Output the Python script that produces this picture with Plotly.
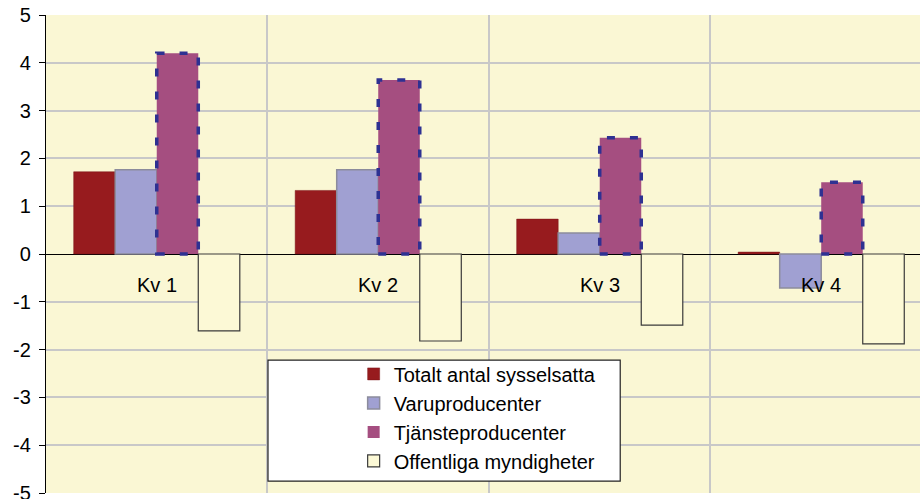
import plotly.graph_objects as go

categories = ["Kv 1", "Kv 2", "Kv 3", "Kv 4"]
totalt = [1.72, 1.33, 0.73, 0.04]
varu = [1.76, 1.76, 0.44, -0.71]
tjanste = [4.2, 3.64, 2.43, 1.5]
offentliga = [-1.61, -1.82, -1.49, -1.88]

series_names = ["Totalt antal sysselsatta", "Varuproducenter", "Tjänsteproducenter", "Offentliga myndigheter"]

y_tick_vals = [-5, -4, -3, -2, -1, 0, 1, 2, 3, 4, 5]
y_tick_text = ["-5", "-4", "-3", "-2", "-1", "0", "1", "2", "3", "4", "5"]

xs = list(range(len(categories)))
FONT = "Liberation Sans, Arial, sans-serif"

fig = go.Figure()
fig.add_trace(go.Bar(x=xs, y=totalt, name=series_names[0],
                     marker=dict(color="#971B1E", line=dict(color="#7A1518", width=0.5))))
fig.add_trace(go.Bar(x=xs, y=varu, name=series_names[1],
                     marker=dict(color="#A0A0D2", line=dict(color="#8C8C9C", width=1.5))))
fig.add_trace(go.Bar(x=xs, y=tjanste, name=series_names[2],
                     marker=dict(color="#A54E80", line=dict(color="#2E3192", width=0))))
fig.add_trace(go.Bar(x=xs, y=offentliga, name=series_names[3],
                     marker=dict(color="#FCF9D6", line=dict(color="#3A3A3A", width=1.2))))

bargap = 0.25
nser = 4
bw = (1 - bargap) / nser
shapes = []
# dashed outline around the Tjänsteproducenter bars (3rd bar of each group)
for i, v in enumerate(tjanste):
    x0 = xs[i] - (1 - bargap) / 2 + 2 * bw
    shapes.append(dict(type="rect", xref="x", yref="y", x0=x0, x1=x0 + bw, y0=0, y1=v,
                       line=dict(color="#2E3192", width=3.5, dash="8px,15px"),
                       fillcolor="rgba(0,0,0,0)", layer="above"))
# legend box
shapes.append(dict(type="rect", xref="paper", yref="paper", x0=0.254, x1=0.657, y0=0.025, y1=0.278,
                   line=dict(color="#222222", width=1.2), fillcolor="white", layer="above"))

annotations = [dict(x=xs[i], y=0, xref="x", yref="y", text=c, showarrow=False,
                    yanchor="top", yshift=-18, font=dict(family=FONT, size=20, color="black"))
               for i, c in enumerate(categories)]

fig.update_layout(
    width=920, height=499,
    margin=dict(l=46, r=0, t=15, b=6, autoexpand=False),
    paper_bgcolor="white",
    plot_bgcolor="#FAF7D4",
    barmode="group", bargap=bargap, bargroupgap=0,
    shapes=shapes,
    annotations=annotations,
    font=dict(family=FONT, size=20, color="black"),
    showlegend=True,
    legend=dict(x=0.352, y=0.290, xanchor="left", yanchor="top",
                bgcolor="rgba(0,0,0,0)", borderwidth=0,
                font=dict(family=FONT, size=20, color="black")),
)
fig.update_xaxes(range=[-0.5, 3.446], tickvals=[-0.5, 0.5, 1.5, 2.5, 3.5], automargin=False,
                 showticklabels=False, showgrid=True, gridcolor="#C8C8C8", gridwidth=1.5,
                 zeroline=False, showline=False, ticks="")
fig.update_yaxes(range=[-5, 5], tickvals=y_tick_vals, ticktext=y_tick_text, automargin=False,
                 showgrid=True, gridcolor="#C8C8C8", gridwidth=1.5,
                 zeroline=True, zerolinecolor="black", zerolinewidth=1.2,
                 showline=True, linecolor="black", linewidth=1.2, mirror=False,
                 ticks="outside", ticklen=6, tickcolor="black", ticklabelstandoff=4,
                 ticklabeloverflow="allow",
                 tickfont=dict(family=FONT, size=20, color="black"))

fig.write_html("out.html", config={"displayModeBar": False},
               post_script="document.body.style.margin='0';")
